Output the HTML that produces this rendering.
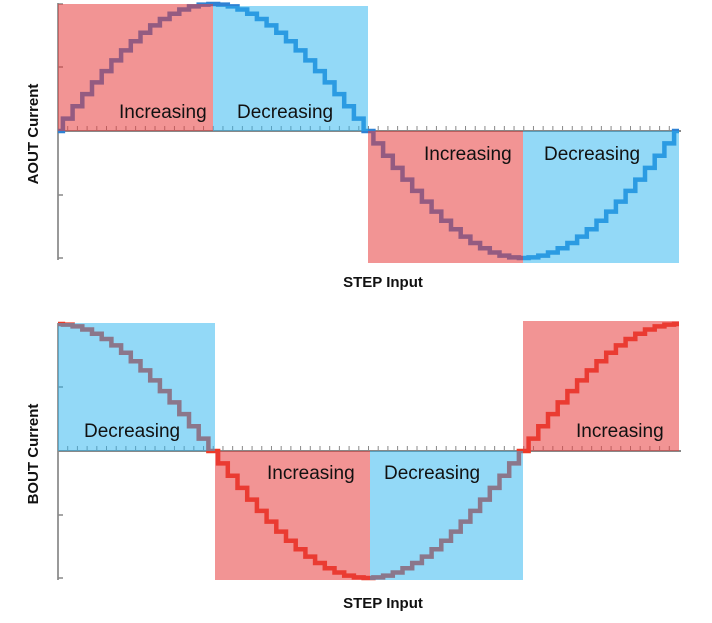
<!DOCTYPE html>
<html><head><meta charset="utf-8"><style>
html,body{margin:0;padding:0;background:#fff;width:712px;height:623px;overflow:hidden}
svg text{font-family:"Liberation Sans",sans-serif}
</style></head><body>
<svg id="s" width="712" height="623" xmlns="http://www.w3.org/2000/svg"></svg>
<script>
const s=document.getElementById('s');let h='';
const X0=58,P=621,A=127;
function stair(y0,fn){let w=P/64,d='';
 for(let i=0;i<=64;i++){const v=fn(i*Math.PI/32);const y=y0-A*v;
  const xa=Math.max(X0,X0+(i-0.5)*w),xb=Math.min(X0+P,X0+(i+0.5)*w);
  d+=(i==0?'M':'L')+xa.toFixed(1)+' '+y.toFixed(1)+' L'+xb.toFixed(1)+' '+y.toFixed(1)+' ';}
 return d;}
function axis(y0){let r=`<line x1="${X0}" y1="${y0-128}" x2="${X0}" y2="${y0+129}" stroke="#999" stroke-width="2"/>`;
 r+=`<line x1="${X0}" y1="${y0}" x2="${X0+P+2}" y2="${y0}" stroke="#888" stroke-width="2"/>`;
 for(let i=1;i<64;i++){const x=X0+i*P/64;r+=`<line x1="${x}" y1="${y0}" x2="${x}" y2="${y0-5}" stroke="#888" stroke-width="1"/>`;}
 [y0-127,y0-64,y0+64,y0+127].forEach(y=>r+=`<line x1="${X0}" y1="${y}" x2="${X0+5}" y2="${y}" stroke="#888" stroke-width="1.5"/>`);
 return r;}
const R='fill="rgb(232,60,60)" fill-opacity="0.55"',B='fill="rgb(40,180,240)" fill-opacity="0.5"';
let y0=131;
h+=axis(y0);
h+=`<path d="${stair(y0,Math.sin)}" fill="none" stroke="#2f82d4" stroke-width="4.5"/>`;
h+=`<rect x="58" y="4" width="155" height="127" ${R}/><rect x="213" y="6" width="155" height="125" ${B}/>`;
h+=`<rect x="368" y="131" width="155" height="132" ${R}/><rect x="523" y="131" width="156" height="132" ${B}/>`;
y0=451;
h+=axis(y0);
h+=`<path d="${stair(y0,Math.cos)}" fill="none" stroke="#ee3a26" stroke-width="4.5"/>`;
h+=`<rect x="58" y="323" width="157" height="128" ${B}/><rect x="215" y="451" width="155" height="129" ${R}/>`;
h+=`<rect x="370" y="451" width="153" height="129" ${B}/><rect x="523" y="321" width="156" height="130" ${R}/>`;
const L=(x,y,t)=>h+=`<text x="${x}" y="${y}" font-size="19" fill="#111">${t}</text>`;
L(119,118,'Increasing');L(237,118,'Decreasing');L(424,160,'Increasing');L(544,160,'Decreasing');
L(84,437,'Decreasing');L(267,479,'Increasing');L(384,479,'Decreasing');L(576,437,'Increasing');
h+=`<text x="383" y="287" font-size="15" font-weight="bold" text-anchor="middle" fill="#111">STEP Input</text>`;
h+=`<text x="383" y="608" font-size="15" font-weight="bold" text-anchor="middle" fill="#111">STEP Input</text>`;
h+=`<text transform="translate(38,134) rotate(-90)" font-size="15" font-weight="bold" text-anchor="middle" fill="#111">AOUT Current</text>`;
h+=`<text transform="translate(38,454) rotate(-90)" font-size="15" font-weight="bold" text-anchor="middle" fill="#111">BOUT Current</text>`;
s.innerHTML=h;
</script>
</body></html>
